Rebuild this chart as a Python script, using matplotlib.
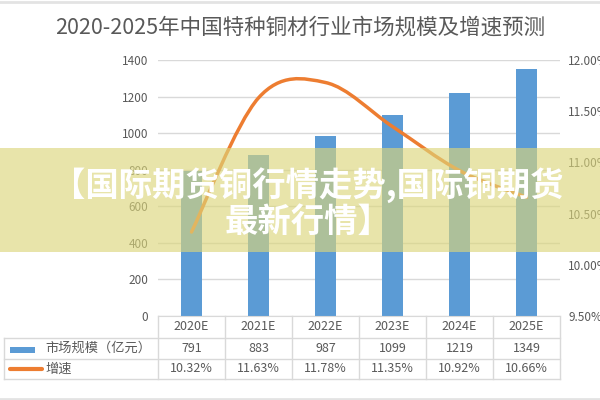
import numpy as np
import matplotlib
matplotlib.use("Agg")
import matplotlib.pyplot as plt
from matplotlib.path import Path
from matplotlib.patches import PathPatch, Rectangle
from matplotlib.lines import Line2D

plt.rcParams['font.family'] = ['Noto Sans CJK SC', 'DejaVu Sans']

# chart data
years = ['2020E', '2021E', '2022E', '2023E', '2024E', '2025E']
market_size = [791, 883, 987, 1099, 1219, 1349]          # 市场规模（亿元）
growth = [10.32, 11.63, 11.78, 11.35, 10.92, 10.66]      # 增速 (%)
left_ticks = [0, 200, 400, 600, 800, 1000, 1200, 1400]
right_ticks = [9.5, 10.0, 10.5, 11.0, 11.5, 12.0]

title = '2020-2025年中国特种铜材行业市场规模及增速预测'
series_names = ['市场规模（亿元）', '增速']
banner_lines = ['【国际期货铜行情走势,国际铜期货', '最新行情】']

BLUE = '#5B9BD5'
ORANGE = '#ED7D31'
GRID = '#D9D9D9'
TEXT = '#595959'

W, H = 600, 400
fig = plt.figure(figsize=(6, 4), dpi=100)
fig.patch.set_facecolor('white')

# plot area in pixels: x 158..560, y 60..316 (from top)
x0, x1, ytop, ybot = 158, 560, 60, 316
ax = fig.add_axes([x0 / W, 1 - ybot / H, (x1 - x0) / W, (ybot - ytop) / H])
n = len(years)
x = np.arange(n)

ax.bar(x, market_size, width=0.31, color=BLUE, zorder=2)
ax.set_xlim(-0.5, n - 0.5)
ax.set_ylim(0, 1400)
ax.set_yticks(left_ticks)
ax.set_xticks([])
ax.grid(axis='y', color=GRID, linewidth=1, zorder=0)
for s in ['top', 'right', 'left']:
    ax.spines[s].set_visible(False)
ax.spines['bottom'].set_color(GRID)
ax.tick_params(axis='y', length=0, pad=7, labelsize=8.5, labelcolor=TEXT)

ax2 = ax.twinx()
ax2.set_ylim(9.5, 12.0)
ax2.set_yticks(right_ticks)
ax2.set_yticklabels([f'{v:.2f}%' for v in right_ticks])
ax2.tick_params(axis='y', length=0, pad=6, labelsize=8.5, labelcolor=TEXT)
for s in ax2.spines.values():
    s.set_visible(False)

# smoothed growth line (Catmull-Rom -> cubic bezier through the data points)
pts = np.column_stack([x, growth]).astype(float)
ext = np.vstack([pts[0], pts, pts[-1]])
verts = [pts[0]]
codes = [Path.MOVETO]
for i in range(n - 1):
    p0, p1, p2, p3 = ext[i], ext[i + 1], ext[i + 2], ext[i + 3]
    verts += [p1 + (p2 - p0) / 6, p2 - (p3 - p1) / 6, p2]
    codes += [Path.CURVE4] * 3
ax2.add_patch(PathPatch(Path(verts, codes), fill=False, edgecolor=ORANGE,
                        linewidth=2.5, capstyle='round', zorder=3))

# data table under the chart
col_w = (x1 - x0) / n
row_y = [316, 338, 359, 379]
tl = 4


def fx(px):
    return px / W


def fy(py):
    return 1 - py / H


for ry in row_y[1:]:
    fig.add_artist(Line2D([fx(tl), fx(x1)], [fy(ry), fy(ry)], color=GRID, lw=1))
fig.add_artist(Line2D([fx(tl), fx(tl)], [fy(row_y[1]), fy(row_y[3])], color=GRID, lw=1))
for k in range(n + 1):
    xp = x0 + k * col_w
    fig.add_artist(Line2D([fx(xp), fx(xp)], [fy(row_y[0]), fy(row_y[3])], color=GRID, lw=1))

cell_kw = dict(ha='center', va='center', fontsize=9, color=TEXT)
for k in range(n):
    cx = fx(x0 + (k + 0.5) * col_w)
    fig.text(cx, fy(327), years[k], **cell_kw)
    fig.text(cx, fy(348.5), f'{market_size[k]}', **cell_kw)
    fig.text(cx, fy(369), f'{growth[k]:.2f}%', **cell_kw)

fig.add_artist(Rectangle((fx(10), fy(353)), 25 / W, 6 / H, transform=fig.transFigure,
                         facecolor=BLUE, edgecolor='none'))
fig.add_artist(Line2D([fx(10), fx(42)], [fy(369), fy(369)], color=ORANGE, lw=3,
                      solid_capstyle='round'))
fig.text(fx(45), fy(348.5), series_names[0], ha='left', va='center', fontsize=9.5, color=TEXT)
fig.text(fx(45), fy(369), series_names[1], ha='left', va='center', fontsize=9.5, color=TEXT)

# title
fig.text(0.5, fy(28), title, ha='center', va='center', fontsize=15.5, color=TEXT)

# thin frame lines top and bottom
fig.add_artist(Line2D([0, 1], [fy(1.5), fy(1.5)], color='#E3E3E3', lw=2))
fig.add_artist(Line2D([0, 1], [fy(398.5), fy(398.5)], color='#E3E3E3', lw=2))

# translucent banner with headline text
fig.add_artist(Rectangle((0, fy(252)), 1, (252 - 148) / H, transform=fig.transFigure,
                         facecolor='#DCD67A', alpha=0.64, edgecolor='none', zorder=10))
fig.text(fx(308), fy(185), banner_lines[0], ha='center', va='center', fontsize=24,
         fontweight='bold', color='white', zorder=11)
fig.text(fx(308), fy(222), banner_lines[1], ha='center', va='center', fontsize=24,
         fontweight='bold', color='white', zorder=11)

fig.savefig('out.png', dpi=100)
